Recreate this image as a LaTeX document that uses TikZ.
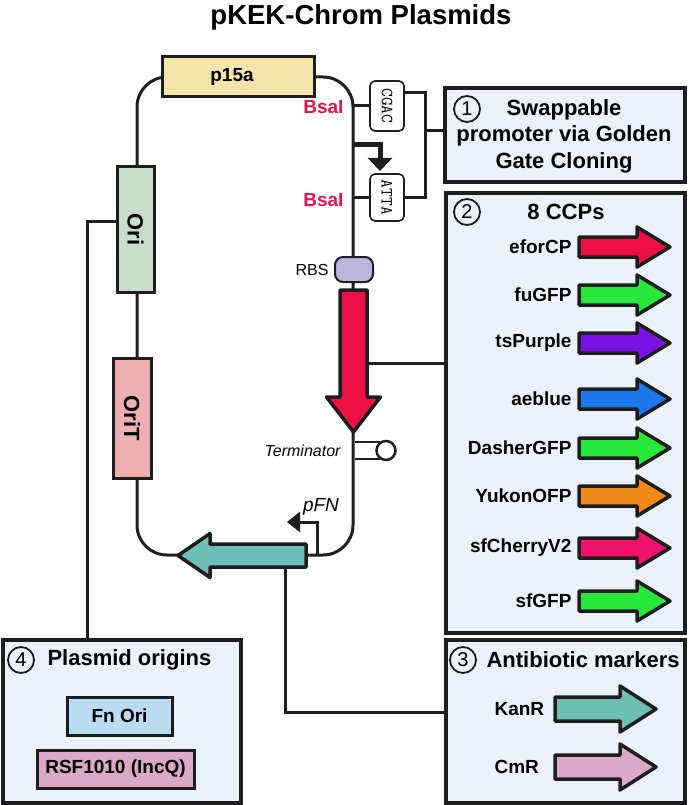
\documentclass[tikz,border=0pt]{standalone}
\usepackage{graphicx,xcolor}
\usepackage{fontspec}
\setmainfont{Liberation Sans}
\usetikzlibrary{arrows.meta}
\definecolor{ink}{HTML}{1E1E1E}
\definecolor{panel}{HTML}{EAF1FB}
\definecolor{P15}{HTML}{F3E4A9}
\definecolor{ORI}{HTML}{C9DEC8}
\definecolor{ORT}{HTML}{EEAFB0}
\definecolor{RBS}{HTML}{B9B8DA}
\definecolor{BSA}{HTML}{E3164D}
\definecolor{C1}{HTML}{EC1044}
\definecolor{C2}{HTML}{28E83C}
\definecolor{C3}{HTML}{7B13E6}
\definecolor{C4}{HTML}{1C76EC}
\definecolor{C5}{HTML}{F08A18}
\definecolor{C6}{HTML}{F0136E}
\definecolor{KAN}{HTML}{6DBFB3}
\definecolor{CMR}{HTML}{DAA9CA}
\definecolor{FNO}{HTML}{B8DDF3}
% gene arrow: colour, tail, angle, length, head length, half body, half head
\newcommand{\genearrow}[7]{%
  \draw[gene, fill=#1, shift={#2}, rotate=#3] (0,-#6) -- (#4-#5,-#6) -- (#4-#5,-#7)
    -- (#4,0) -- (#4-#5,#7) -- (#4-#5,#6) -- (0,#6) -- cycle;}

\begin{document}
\begin{tikzpicture}[x=1pt, y=-1pt,
    backbone/.style={ink, line width=3pt, rounded corners=30pt},
    link/.style={ink, line width=3pt},
    panelbox/.style={draw=ink, fill=panel, line width=3.5pt, inner sep=0pt},
    part/.style={draw=ink, line width=3pt, inner sep=0pt, font=\bfseries\fontsize{19}{22}\selectfont},
    site/.style={draw=ink, fill=white, line width=1.6pt, rounded corners=5pt, inner sep=0pt,
      minimum width=34pt, font=\ttfamily\fontsize{17}{17}\selectfont},
    gene/.style={draw=ink, line width=3.5pt, line join=round},
    num/.style={draw=ink, circle, line width=1.8pt, minimum size=26pt, inner sep=0pt,
      font=\fontsize{20}{20}\selectfont},
    head/.style={font=\bfseries\fontsize{22}{26.5}\selectfont},
    ccplabel/.style={anchor=east, font=\bfseries\fontsize{19}{22}\selectfont},
    small/.style={font=\fontsize{16}{18}\selectfont}]
\useasboundingbox (0,0) rectangle (688,805);

\node[font=\bfseries\fontsize{27.5}{30}\selectfont] (title) at (361,17) {pKEK-Chrom Plasmids};

% backbone
\draw[backbone] (137,200) -- (137,77) -- (353,77) -- (353,555) -- (137,555) -- cycle;

% panels
\node[panelbox, minimum width=240pt, minimum height=94pt] (box1) at (565,135) {};
\node[panelbox, minimum width=239pt, minimum height=440pt] (box2) at (565.5,413) {};
\node[panelbox, minimum width=239pt, minimum height=163pt] (box3) at (565.5,721.5) {};
\node[panelbox, minimum width=238pt, minimum height=163pt] (box4) at (122,721.5) {};

% parts on the plasmid
\node[part, fill=P15, minimum width=152pt, minimum height=40pt] (p15a) at (238,77) {\hspace*{-12pt}p15a};
\node[part, fill=ORI, minimum width=37pt, minimum height=125pt] (ori) at (135.5,229.5)
  {\fontsize{22}{22}\selectfont\rotatebox{-90}{Ori}};
\node[part, fill=ORT, minimum width=38pt, minimum height=120pt] (orit) at (132,418)
  {\fontsize{22}{22}\selectfont\rotatebox{-90}{OriT}};
\node[part, fill=RBS, line width=2pt, rounded corners=8pt, minimum width=38pt, minimum height=25pt] (rbs) at (354,269.5) {};
\node[site, minimum height=50pt] (cgac) at (387,106) {\rotatebox{-90}{CGAC}};
\node[site, minimum height=47pt] (atta) at (387,197.5) {\rotatebox{-90}{ATTA}};
\coordinate (brk) at (425,131);
\coordinate (kantap) at (285,567);

\node[anchor=east, text=BSA, font=\bfseries\fontsize{19}{22}\selectfont] (bsa1) at (347,107) {BsaI};
\node[anchor=east, text=BSA, font=\bfseries\fontsize{19}{22}\selectfont] (bsa2) at (347,200) {BsaI};
\node[small, anchor=east] (rbslab) at (332,270) {RBS};
\node[small, anchor=east, font=\itshape\fontsize{16}{18}\selectfont] (termlab) at (344,451) {Terminator};
\node[font=\itshape\fontsize{19}{22}\selectfont] (pfnlab) at (321,507) {pFN};

% connectors
\draw[link] (cgac.west) -- ++(-17,0);
\draw[link] (atta.west) -- ++(-17,0);
\draw[link] ([yshift=13pt]cgac.east) -| (brk) |- (atta.east);
\draw[link] (brk) -- (brk -| box1.west);
\draw[link] ([yshift=50pt]box2.west) -- ++(-79,0);
\draw[link] ([yshift=9pt]box3.west) -| (kantap);
\draw[link] ([yshift=8.5pt]ori.west) -| ([xshift=-35pt]box4.north);

% promoter and terminator
\draw[ink, line width=5pt, -{Triangle[width=24pt,length=13pt]}] (353,145) -- (380,145) -- (380,171);
\draw[ink, line width=2.5pt] (355,442) -- (380,442) (355,459) -- (380,459);
\draw[ink, line width=2.5pt, fill=white] (386,450.5) circle[radius=9.5pt];

% genes on the plasmid
\genearrow{C1}{(353.5,290)}{-90}{142}{35}{13.5}{27}
\genearrow{KAN}{(306,555.5)}{180}{128}{32}{11.5}{22}
\draw[ink, line width=3pt, -{Triangle[width=20pt,length=13pt]}] (317,555) -- (317,522) -- (287,522);

% panel 1
\node[num] (n1) at (467,109) {1};
\node[head, align=center] (t1) at (564,136) {Swappable\\promoter via Golden\\Gate Cloning};

% panel 2
\node[num] (n2) at (467,212) {2};
\node[head] (t2) at (566,212) {8 CCPs};
\node[ccplabel] (eforcp) at (575,247) {eforCP};
\node[ccplabel] (fugfp) at (575,295) {fuGFP};
\node[ccplabel] (tspurple) at (575,343) {tsPurple};
\node[ccplabel] (aeblue) at (575,399) {aeblue};
\node[ccplabel] (dasher) at (575,448) {DasherGFP};
\node[ccplabel] (yukon) at (575,496) {YukonOFP};
\node[ccplabel] (sfcherry) at (575,548) {sfCherryV2};
\node[ccplabel] (sfgfp) at (575,601) {sfGFP};
\genearrow{C1}{(579,247)}{0}{91}{33}{10}{20}
\genearrow{C2}{(579,295)}{0}{91}{33}{10}{20}
\genearrow{C3}{(579,343)}{0}{91}{33}{10}{20}
\genearrow{C4}{(579,399)}{0}{91}{33}{10}{20}
\genearrow{C2}{(579,448)}{0}{91}{33}{10}{20}
\genearrow{C5}{(579,496)}{0}{91}{33}{10}{20}
\genearrow{C6}{(579,548)}{0}{91}{33}{10}{20}
\genearrow{C2}{(579,601)}{0}{91}{33}{10}{20}

% panel 3
\node[num] (n3) at (463,660) {3};
\node[head, anchor=west] (t3) at (483,660) {Antibiotic markers};
\node[ccplabel, anchor=west] (kanr) at (491,709) {KanR};
\node[ccplabel, anchor=west] (cmr) at (491,767) {CmR};
\genearrow{KAN}{(555,709)}{0}{101}{36}{12}{23}
\genearrow{CMR}{(555,767)}{0}{101}{36}{12}{23}

% panel 4
\node[num] (n4) at (21,660) {4};
\node[head, anchor=west] (t4) at (44,660) {Plasmid origins};
\node[part, fill=FNO, minimum width=105pt, minimum height=38pt] (fnori) at (119.5,716) {Fn Ori};
\node[part, fill=CMR, minimum width=157pt, minimum height=38pt] (rsf) at (115.5,769) {RSF1010 (IncQ)};
\end{tikzpicture}
\end{document}
